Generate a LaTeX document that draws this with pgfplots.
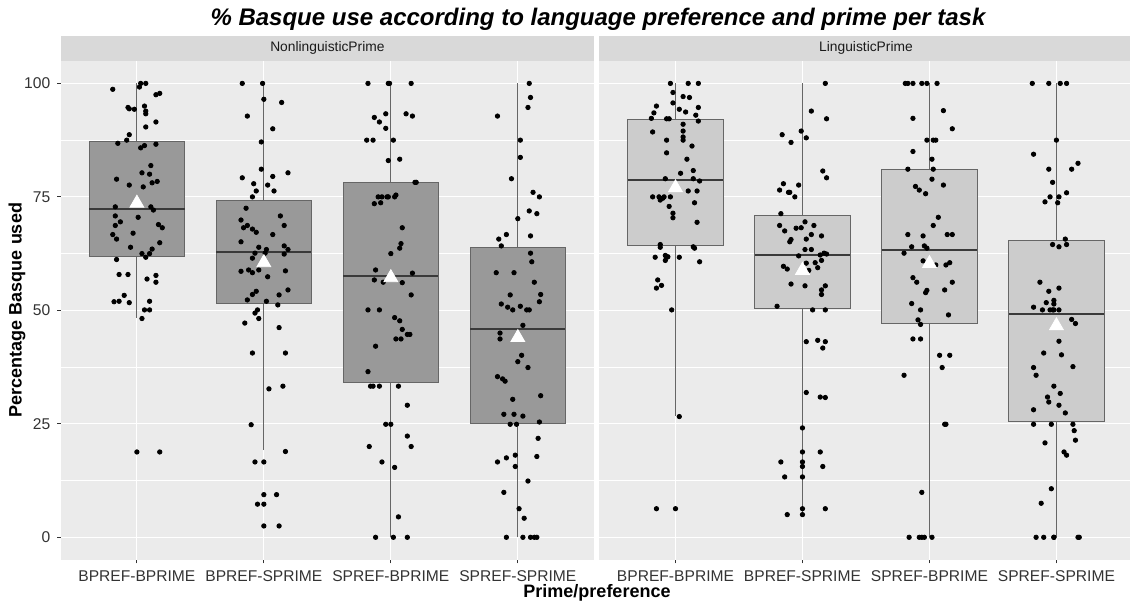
\documentclass[border=0pt]{standalone}
\usepackage{fontspec}
\setmainfont{Liberation Sans}
\usepackage{pgfplots}
\pgfplotsset{compat=1.18}
\usepgfplotslibrary{statistics}
\definecolor{panelbg}{HTML}{EBEBEB}
\definecolor{stripc}{HTML}{D9D9D9}
\definecolor{striptext}{HTML}{1A1A1A}
\definecolor{boxL}{HTML}{999999}
\definecolor{boxR}{HTML}{CCCCCC}
\definecolor{boxline}{HTML}{666666}
\definecolor{medc}{HTML}{3A3A3A}
\definecolor{tickc}{HTML}{333333}
\pgfplotsset{facet/.style={
  width=266.65pt, height=249.65pt, scale only axis,
  xmin=-0.6, xmax=3.6, ymin=-5, ymax=105,
  axis line style={draw=none},
  axis background/.style={fill=panelbg},
  xtick={0,1,2,3},
  xticklabels={BPREF-BPRIME,BPREF-SPRIME,SPREF-BPRIME,SPREF-SPRIME},
  ytick={0,25,50,75,100}, minor ytick={12.5,37.5,62.5,87.5},
  grid=both,
  major grid style={white, line width=0.6pt},
  minor grid style={white, line width=0.3pt},
  tick align=outside, major tick length=1.7pt, minor tick length=0pt,
  xtick pos=left, ytick pos=left,
  tick style={draw=tickc, line width=0.5pt},
  ticklabel style={font=\fontsize{7.8}{9}\selectfont, text=tickc},
  /pgf/number format/assume math mode=true,
  boxplot/draw direction=y,
  boxplot/box extend=0.75, boxplot/whisker extend=0,
  anchor=south west,
}, bx/.style={draw=boxline, line width=0.5pt, boxplot/every median/.style={draw=medc, line width=1pt}}}
\begin{document}
\begin{tikzpicture}
\useasboundingbox (0,0) rectangle (565pt,303pt);
% strips
\fill[stripc] (30.35pt,272.65pt) rectangle (297pt,285.15pt);
\fill[stripc] (299.65pt,272.65pt) rectangle (566.3pt,285.15pt);
\node[font=\fontsize{6.9}{8}\selectfont, text=striptext] at (163.7pt,278.9pt) {NonlinguisticPrime};
\node[font=\fontsize{6.9}{8}\selectfont, text=striptext] at (433pt,278.9pt) {LinguisticPrime};
% title and labels
\node[font=\bfseries\itshape\fontsize{12}{14}\selectfont, anchor=base] at (299pt,290pt) {\% Basque use according to language preference and prime per task};
\node[font=\bfseries\fontsize{9}{11}\selectfont] at (298.5pt,6.5pt) {Prime/preference};
\node[font=\bfseries\fontsize{9}{11}\selectfont, rotate=90] at (8.5pt,148pt) {Percentage Basque used};

\begin{axis}[facet, at={(30.35pt,23pt)}]
\addplot[boxplot prepared={draw position=0, lower whisker=48.4, lower quartile=61.9, median=72.4, upper quartile=87.3, upper whisker=100}, bx, fill=boxL] coordinates {};
\addplot[boxplot prepared={draw position=1, lower whisker=19.2, lower quartile=51.4, median=62.8, upper quartile=74.3, upper whisker=100}, bx, fill=boxL] coordinates {};
\addplot[boxplot prepared={draw position=2, lower whisker=0, lower quartile=34.1, median=57.5, upper quartile=78.2, upper whisker=100}, bx, fill=boxL] coordinates {};
\addplot[boxplot prepared={draw position=3, lower whisker=0, lower quartile=25.0, median=46.0, upper quartile=63.9, upper whisker=100}, bx, fill=boxL] coordinates {};
% G1
\addplot[only marks, mark=*, mark size=1.1pt, black] table {
x y
0.03 100
0.07 100
0.02 99.2
-0.19 98.7
0.15 97.5
0.18 97.8
-0.07 94.7
-0.06 94.4
-0.02 94.3
0.06 95.0
0.07 93.9
0.07 93.3
0.15 91.5
0.07 90.4
-0.06 88.7
-0.08 87.5
-0.15 86.8
0.15 86.6
0.03 85.8
0.06 86.3
0.11 81.9
0.04 80.3
0.10 80.0
-0.16 78.9
0.16 78.4
0.12 78.1
-0.06 77.6
0.05 77.2
-0.17 72.8
0.11 72.8
0.13 72.1
-0.17 70.8
-0.13 69.5
0.01 70.5
-0.17 68.7
0.17 68.9
0.20 68.2
-0.19 66.7
-0.16 65.7
-0.03 67.0
0.18 64.9
-0.05 63.9
0.12 63.5
0.04 62.5
0.10 62.5
0.07 61.7
-0.16 61.2
-0.14 57.9
-0.07 57.9
0.15 57.7
0.08 56.9
0.15 56.2
-0.10 53.3
-0.18 51.9
-0.14 52.0
-0.06 51.7
0.10 52.0
0.06 50.1
0.10 50.1
0.04 48.2
0 18.8
0.18 18.8
};
% G2
\addplot[only marks, mark=*, mark size=1.1pt, black] table {
x y
0.83 100
0.99 100
1.00 96.5
1.14 95.8
0.87 92.8
1.07 90.0
0.98 87.1
0.98 81.1
0.83 79.2
1.07 79.5
1.19 80.3
0.92 77.9
1.03 77.6
0.94 76.3
1.08 76.3
0.91 75.0
0.86 72.5
1.13 70.8
0.82 69.9
0.84 68.2
0.87 68.7
0.91 67.9
0.94 67.2
1.16 68.7
1.07 66.7
0.82 65.1
0.96 63.9
1.02 63.4
1.16 64.2
1.19 63.4
0.93 62.6
1.01 62.6
1.16 62.4
0.91 61.5
0.82 58.6
0.88 58.9
0.91 58.3
0.96 58.9
1.17 58.7
1.03 57.4
1.19 54.5
0.94 54.2
0.91 53.5
0.87 52.3
1.12 53.4
1.02 52.0
1.11 51.2
0.95 50.1
0.93 49.4
0.96 48.2
0.85 47.2
1.12 46.2
0.91 40.6
1.17 40.6
1.04 32.7
1.15 33.3
0.90 24.8
1.17 18.9
0.93 16.6
1.00 16.6
1.00 9.4
1.10 9.4
0.95 7.3
1.00 7.3
1.00 2.5
1.12 2.5
};
% G3
\addplot[only marks, mark=*, mark size=1.1pt, black] table {
x y
1.82 100
1.98 100
1.99 100
2.16 100
1.87 92.5
1.91 91.5
1.96 93.3
2.12 93.3
2.17 92.8
1.96 90.1
1.81 87.5
1.86 87.5
2.02 87.5
1.98 83.0
2.07 83.3
2.19 78.2
2.20 78.2
1.90 75.0
1.93 75.0
1.97 75.0
1.98 75.0
2.03 75.0
2.04 75.4
1.87 73.5
1.92 73.7
2.09 68.2
2.08 64.7
2.07 63.7
2.00 62.5
1.88 58.9
2.17 58.2
1.87 56.7
1.94 56.2
2.09 56.1
2.16 53.4
1.82 50.1
1.91 50.1
2.03 48.4
2.07 47.7
2.09 45.8
2.13 44.7
2.15 44.7
2.04 43.7
2.08 43.7
1.88 42.1
1.82 36.5
1.84 33.3
1.86 33.3
1.91 33.3
2.06 33.3
2.13 29.1
1.96 24.9
2.00 24.9
2.13 22.3
1.83 20.0
2.16 20.0
1.93 16.6
2.03 15.4
2.06 4.5
1.88 0
2.02 0
2.13 0
};
% G4
\addplot[only marks, mark=*, mark size=1.1pt, black] table {
x y
3.09 100
3.10 96.9
3.08 94.7
2.84 92.8
3.02 87.5
3.02 83.7
2.95 79.0
3.12 76.0
3.17 75.0
3.09 71.9
3.15 71.3
3.00 70.2
2.91 66.7
2.85 65.7
3.10 66.4
2.87 64.2
3.10 62.6
3.11 60.7
2.83 58.3
2.97 58.3
3.13 56.2
2.94 53.4
3.18 53.5
2.87 51.4
2.92 50.7
2.96 50.1
3.02 50.9
3.07 50.1
3.09 50.1
3.17 51.9
3.04 46.7
2.86 45.0
2.86 43.7
3.03 40.1
3.00 38.7
3.08 37.4
2.84 35.4
2.88 34.9
2.90 34.4
2.96 30.4
3.18 31.2
2.89 27.1
2.97 27.1
3.04 26.7
2.94 24.9
2.99 24.9
3.17 25.4
3.16 21.8
2.84 16.6
2.91 17.5
2.98 18.1
2.98 15.6
3.15 17.8
3.08 12.4
2.89 9.9
3.01 6.3
3.05 4.2
2.91 0
3.04 0
3.10 0
3.13 0
3.15 0
};
\addplot[only marks, mark=triangle*, mark size=4pt, white, mark options={fill=white, draw=white}] coordinates {(0,73.6) (1,60.5) (2,57.2) (3,44.0)};
\end{axis}

\begin{axis}[facet, at={(299.65pt,23pt)}, yticklabel=\empty, ytick style={draw=none}]
\addplot[boxplot prepared={draw position=0, lower whisker=26.7, lower quartile=64.2, median=78.7, upper quartile=92.0, upper whisker=100}, bx, fill=boxR] coordinates {};
\addplot[boxplot prepared={draw position=1, lower whisker=4.5, lower quartile=50.3, median=62.3, upper quartile=71.0, upper whisker=100}, bx, fill=boxR] coordinates {};
\addplot[boxplot prepared={draw position=2, lower whisker=0, lower quartile=47.1, median=63.2, upper quartile=81.1, upper whisker=100}, bx, fill=boxR] coordinates {};
\addplot[boxplot prepared={draw position=3, lower whisker=0, lower quartile=25.6, median=49.2, upper quartile=65.4, upper whisker=100}, bx, fill=boxR] coordinates {};
% G5
\addplot[only marks, mark=*, mark size=1.1pt, black] table {
x y
-0.04 100
0.10 100
0.18 100
-0.02 98.0
0.06 97.1
0.11 96.9
-0.15 95.0
-0.17 93.5
-0.19 92.3
-0.02 95.7
0.03 94.3
0.08 93.7
0.18 94.7
0.16 93.0
0.18 91.7
-0.07 92.2
-0.05 92.2
0.06 91.0
0.06 89.5
0.06 88.2
0.06 87.5
-0.18 89.3
-0.07 87.5
0.13 86.2
-0.07 84.7
0.09 83.3
0.04 80.2
0.14 80.8
-0.08 79.0
0.14 79.0
0.19 78.5
0.10 76.3
0.17 76.3
-0.18 75.0
-0.13 75.0
-0.09 75.0
-0.12 74.3
-0.10 74.7
-0.04 75.0
0.15 73.7
-0.05 72.9
-0.02 71.4
-0.02 70.4
0.17 69.4
-0.12 64.5
-0.12 63.9
0.14 64.0
0.15 63.7
-0.16 61.7
-0.08 62.1
-0.06 61.8
-0.07 61.7
-0.08 61.0
0.03 61.7
0.19 60.7
-0.14 56.7
-0.11 55.5
-0.15 54.9
-0.03 50.1
0.03 26.6
-0.15 6.3
0 6.3
};
% G6
\addplot[only marks, mark=*, mark size=1.1pt, black] table {
x y
1.18 100
1.07 93.9
1.19 92.2
0.84 88.7
0.99 89.5
1.03 88.0
0.91 87.0
1.16 80.7
1.19 79.2
0.85 77.9
0.97 77.6
0.82 76.5
0.89 76.0
0.90 76.0
0.94 75.0
0.83 71.3
1.02 69.5
0.82 68.7
1.09 68.7
0.86 67.5
0.95 68.1
0.99 68.2
1.07 66.7
1.15 66.4
0.90 65.1
0.91 65.6
1.03 65.7
1.02 63.4
1.07 63.4
0.97 62.0
1.14 62.2
1.17 62.6
1.19 62.4
1.03 60.4
1.10 60.5
1.15 61.0
0.85 59.7
0.88 59.1
1.05 58.8
1.12 59.4
0.91 55.8
1.02 55.4
1.18 55.4
1.15 54.5
1.15 53.5
0.80 50.9
1.08 50.1
1.18 50.1
1.03 43.1
1.12 43.4
1.18 43.1
1.16 41.7
1.03 31.9
1.14 30.9
1.18 30.8
1.00 24.1
1.00 18.8
1.14 18.8
0.83 16.6
1.00 16.6
1.00 15.6
1.16 15.6
0.86 13.3
1.00 13.3
1.00 6.3
1.18 6.3
0.88 5.0
1.00 5.0
};
% G7
\addplot[only marks, mark=*, mark size=1.1pt, black] table {
x y
1.81 100
1.83 100
1.87 100
1.94 100
1.98 100
2.06 100
2.11 94.0
1.87 92.3
2.18 90.0
1.98 87.5
2.03 87.5
2.05 87.5
1.87 85.0
2.02 83.3
1.83 81.1
2.03 81.1
2.02 78.9
1.89 77.3
1.92 76.5
2.11 77.6
1.97 75.7
2.07 70.5
2.03 68.7
1.83 66.7
1.95 66.4
2.14 66.7
2.18 66.7
1.86 64.0
1.96 64.2
1.98 63.7
1.80 62.6
1.95 60.9
2.05 60.0
2.13 60.0
2.16 60.5
1.87 57.2
1.90 56.2
2.18 56.2
1.97 53.9
1.98 54.4
2.12 54.5
1.86 51.5
1.93 50.1
2.15 49.0
1.91 47.9
1.93 46.9
1.87 43.7
1.93 43.7
2.08 40.1
2.16 40.1
2.10 37.4
1.80 35.7
2.12 24.9
2.13 24.9
1.94 9.9
1.84 0
1.92 0
1.94 0
1.96 0
2.02 0
};
% G8
\addplot[only marks, mark=*, mark size=1.1pt, black] table {
x y
2.81 100
2.94 100
3.03 100
3.08 100
3.00 87.5
2.82 84.4
3.17 82.4
2.94 81.1
3.12 81.1
2.97 78.2
2.95 75.0
3.02 75.0
3.08 75.9
2.91 73.9
3.01 73.7
3.07 65.7
2.97 64.5
3.02 64.0
3.08 64.5
2.87 56.2
3.02 54.9
2.94 54.2
2.98 52.2
2.98 51.4
2.92 51.7
2.82 50.7
2.89 50.1
2.95 50.1
2.97 50.1
2.98 50.1
3.02 50.1
3.12 48.0
3.15 47.1
3.02 43.2
2.90 40.6
3.04 40.2
2.82 37.4
3.13 37.6
2.84 35.7
2.98 33.3
3.03 31.7
2.93 30.9
2.94 29.8
3.02 29.1
2.82 28.1
3.07 27.4
2.82 24.9
2.96 24.9
3.13 24.9
3.14 23.5
3.15 21.4
2.91 20.8
3.06 18.8
3.08 18.1
2.96 10.7
2.88 7.5
2.84 0
2.90 0
2.98 0
2.98 0
3.17 0
3.18 0
};
\addplot[only marks, mark=triangle*, mark size=4pt, white, mark options={fill=white, draw=white}] coordinates {(0,77.0) (1,58.8) (2,60.3) (3,46.6)};
\end{axis}
\end{tikzpicture}
\end{document}
